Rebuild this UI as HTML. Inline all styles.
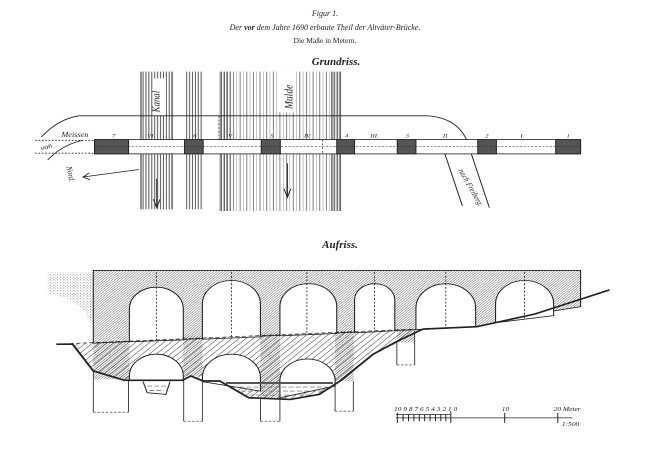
<!DOCTYPE html>
<html><head><meta charset="utf-8"><style>
body{margin:0;background:#fff;width:650px;height:453px;overflow:hidden}
svg{display:block}
text{font-family:"Liberation Serif",serif;fill:#222}
</style></head><body>
<svg width="650" height="453" viewBox="0 0 650 453" xmlns="http://www.w3.org/2000/svg">
<defs>
<pattern id="h1" width="5" height="5" patternUnits="userSpaceOnUse" patternTransform="rotate(45)"><line x1="0" y1="0" x2="0" y2="5" stroke="#333" stroke-width="2"/></pattern>
<pattern id="h2" width="12" height="12" patternUnits="userSpaceOnUse" patternTransform="rotate(45)"><line x1="0" y1="0" x2="0" y2="12" stroke="#333" stroke-width="2.6"/></pattern>
<pattern id="vr" width="7" height="10" patternUnits="userSpaceOnUse"><line x1="2" y1="0" x2="2" y2="10" stroke="#333" stroke-width="2"/></pattern>
<pattern id="vr2" width="16" height="10" patternUnits="userSpaceOnUse"><line x1="3" y1="0" x2="3" y2="10" stroke="#555" stroke-width="1.8"/><line x1="11" y1="0" x2="11" y2="10" stroke="#888" stroke-width="1.2"/></pattern>
<pattern id="dots" width="8" height="8" patternUnits="userSpaceOnUse"><circle cx="2" cy="2" r="1.2" fill="#555"/><circle cx="6" cy="5" r="1" fill="#777"/></pattern>
</defs>

<text x="325" y="16" font-size="8" font-style="italic" text-anchor="middle">Figur 1.</text>
<text x="325" y="30" font-size="8" font-style="italic" text-anchor="middle">Der <tspan font-weight="bold">vor</tspan> dem Jahre 1690 erbaute Theil der Altväter-Brücke.</text>
<text x="325" y="43" font-size="7.5" text-anchor="middle">Die Maße in Metern.</text>
<text x="336" y="65" font-size="11" font-weight="bold" font-style="italic" text-anchor="middle">Grundriss.</text>
<text x="340" y="248" font-size="11" font-weight="bold" font-style="italic" text-anchor="middle">Aufriss.</text>

<!-- PLAN -->
<g transform="translate(0,58) scale(0.4147,0.34)" fill="none" stroke="#222" stroke-width="2.4">
  <rect x="340" y="40" width="75" height="405" fill="url(#vr)" stroke="none"/>
  <line x1="340" y1="40" x2="340" y2="445"/><line x1="415" y1="40" x2="415" y2="445"/>
  <rect x="445" y="40" width="45" height="405" fill="url(#vr)" stroke="none"/>
  <rect x="528" y="40" width="297" height="410" fill="url(#vr2)" stroke="none"/>
  <rect x="528" y="40" width="30" height="410" fill="url(#vr)" stroke="none"/>
  <rect x="795" y="40" width="30" height="410" fill="url(#vr)" stroke="none"/>
  <rect x="368" y="60" width="32" height="110" fill="#fff" stroke="none"/>
  <rect x="670" y="40" width="40" height="120" fill="#fff" stroke="none"/>
  <path d="M100,232 Q140,180 190,170 L1030,170 Q1100,175 1125,240 L1180,440"/>
  <path d="M115,300 Q150,255 200,242"/>
  <path d="M1030,242 Q1065,250 1075,290 L1115,435"/>
  <line x1="85" y1="242" x2="228" y2="242" stroke-dasharray="4 4"/>
  <line x1="85" y1="280" x2="228" y2="280" stroke-dasharray="4 4"/>
  <rect x="228" y="240" width="1172" height="42" fill="#fff"/>
  <g fill="#555" stroke="#222">
    <rect x="228" y="240" width="82" height="42"/><rect x="445" y="240" width="45" height="42"/>
    <rect x="630" y="240" width="46" height="42"/><rect x="812" y="240" width="43" height="42"/>
    <rect x="958" y="240" width="45" height="42"/><rect x="1152" y="240" width="45" height="42"/>
    <rect x="1340" y="240" width="60" height="42"/>
  </g>
  <line x1="228" y1="261" x2="1400" y2="261" stroke-dasharray="5 4" stroke-width="1.6"/>
  <g stroke-dasharray="6 5" stroke-width="1.8"><line x1="340" y1="170" x2="340" y2="240"/><line x1="415" y1="170" x2="415" y2="240"/><line x1="528" y1="170" x2="528" y2="240"/><line x1="778" y1="240" x2="778" y2="282"/></g>
  <line x1="335" y1="328" x2="200" y2="350"/><path d="M215,338 L200,350 L217,358"/>
  <path d="M378,355 L378,440 M370,415 L378,440 L386,415" stroke-width="2.4"/>
  <path d="M693,310 L693,410 M685,385 L693,410 L701,385" stroke-width="2.4"/>
  <g font-size="20" font-style="italic" stroke="none" fill="#222">
    <text x="148" y="232">Meissen</text>
    <text x="100" y="272" transform="rotate(-20 100 272)">von</text>
    <text x="160" y="320" transform="rotate(80 160 320)">Nord.</text>
    <text x="1105" y="330" transform="rotate(65 1105 330)">nach Freiberg.</text>
    <text x="385" y="160" font-size="26" transform="rotate(-90 385 160)">Kanal</text>
    <text x="705" y="150" font-size="28" transform="rotate(-90 705 150)">Mulde</text>
    <g font-size="16"><text x="270" y="234">7</text><text x="355" y="234">VI.</text><text x="466" y="234">6</text><text x="550" y="234">V.</text><text x="652" y="234">5</text><text x="733" y="234">IV.</text><text x="832" y="234">4</text><text x="893" y="234">III.</text><text x="978" y="234">3</text><text x="1068" y="234">II.</text><text x="1170" y="234">2</text><text x="1255" y="234">I.</text><text x="1366" y="234">1</text></g>
  </g>
</g>

<!-- ELEVATION -->
<g transform="translate(0,247) scale(0.4147,0.335)" stroke="#222" stroke-width="2.6">
  <path d="M115,75 L225,75 L225,240 Q200,150 115,140 Z" fill="url(#dots)" stroke="none"/>
  <path d="M175,288 L1000,245 L960,285 L900,320 L820,400 L770,440 L700,455 L600,450 L530,400 L490,400 L460,385 L440,398 L300,398 L225,370 Z" fill="url(#h2)" stroke="none"/>
  <path d="M225,70 L1400,70 L1400,178 L1290,200 L1150,238 L1020,245 L1000,247 L225,287 Z" fill="url(#h1)"/>
  <rect x="225" y="285" width="87" height="110" fill="url(#h1)" stroke="none"/>
  <rect x="442" y="265" width="46" height="120" fill="url(#h1)" stroke="none"/>
  <rect x="628" y="258" width="47" height="192" fill="url(#h1)" stroke="none"/>
  <rect x="808" y="250" width="45" height="150" fill="url(#h1)" stroke="none"/>
  <rect x="957" y="245" width="43" height="40" fill="url(#h1)" stroke="none"/>
  <g fill="#fff">
    <path d="M312,283 L312,185 A65,65 0 0 1 442,185 L442,277 Z"/>
    <path d="M488,275 L488,170 A70,70 0 0 1 628,170 L628,268 Z"/>
    <path d="M675,265 L675,178 A68,68 0 0 1 812,178 L812,258 Z"/>
    <path d="M855,256 L855,158 A48,48 0 0 1 952,158 L952,250 Z"/>
    <path d="M1003,247 L1003,182 A72,72 0 0 1 1147,182 L1147,238 Z"/>
    <path d="M1195,226 L1195,170 A70,70 0 0 1 1335,170 L1335,205 Z"/>
    <path d="M312,398 L312,385 A65,65 0 0 1 442,385 L442,398 Z"/>
    <path d="M488,402 L488,390 A70,70 0 0 1 628,390 L628,430 Z"/>
    <path d="M675,450 L675,393 A67,67 0 0 1 808,393 L808,415 Z"/>
  </g>
  <rect x="545" y="403" width="258" height="6" fill="#555" stroke="none"/>
  <g stroke="#666" stroke-width="2" stroke-dasharray="12 5"><line x1="560" y1="418" x2="790" y2="418"/><line x1="580" y1="430" x2="775" y2="430"/><line x1="600" y1="442" x2="760" y2="442"/><line x1="355" y1="415" x2="400" y2="415"/><line x1="360" y1="428" x2="395" y2="428"/></g>
  <path d="M345,402 L355,435 L400,440 L410,402" fill="none"/>
  <path d="M136,290 L175,290 L225,370 L300,398 L440,398 L460,385 L490,400 L530,400 L600,450 L700,455 L770,440 L820,400 L900,320 L960,280 L1020,245 L1150,238 L1290,200 L1470,128" fill="none" stroke-width="5"/>
  <line x1="136" y1="290" x2="1000" y2="245" stroke-dasharray="10 6" stroke-width="2"/>
  <g fill="none" stroke-width="2">
    <path d="M225,370 L225,493 M310,398 L310,493"/><line x1="225" y1="493" x2="310" y2="493" stroke-dasharray="6 4"/>
    <path d="M443,398 L443,520 M488,400 L488,520"/><line x1="443" y1="520" x2="488" y2="520" stroke-dasharray="6 4"/>
    <path d="M628,450 L628,520 M675,452 L675,520"/><line x1="628" y1="520" x2="675" y2="520" stroke-dasharray="6 4"/>
    <path d="M808,415 L808,490 M852,400 L852,490"/><line x1="808" y1="490" x2="852" y2="490" stroke-dasharray="6 4"/>
    <path d="M957,285 L957,352 M1000,250 L1000,352"/><line x1="957" y1="352" x2="1000" y2="352" stroke-dasharray="6 4"/>
  </g>
  <g stroke-dasharray="6 5" stroke-width="2">
    <line x1="377" y1="75" x2="377" y2="280"/><line x1="558" y1="75" x2="558" y2="272"/><line x1="740" y1="75" x2="740" y2="262"/><line x1="903" y1="75" x2="903" y2="255"/><line x1="1075" y1="75" x2="1075" y2="244"/><line x1="1265" y1="75" x2="1265" y2="218"/>
  </g>
  <g stroke-width="2.4"><line x1="955" y1="510" x2="1380" y2="510"/><line x1="955" y1="500" x2="1085" y2="500"/>
    <path d="M958,495 V525 M972,500 V520 M985,500 V520 M998,500 V520 M1011,500 V520 M1024,500 V520 M1037,500 V520 M1050,500 V520 M1063,500 V520 M1075,500 V520 M1087,490 V525 M1217,495 V525 M1345,495 V525"/></g>
  <g font-size="18" font-style="italic" stroke="none" fill="#222"><text x="950" y="490">10 9 8 7 6 5 4 3 2 1 0</text><text x="1210" y="490">10</text><text x="1335" y="490">20 Meter</text><text x="1355" y="535">1:500</text></g>
</g>
</svg>
</body></html>
